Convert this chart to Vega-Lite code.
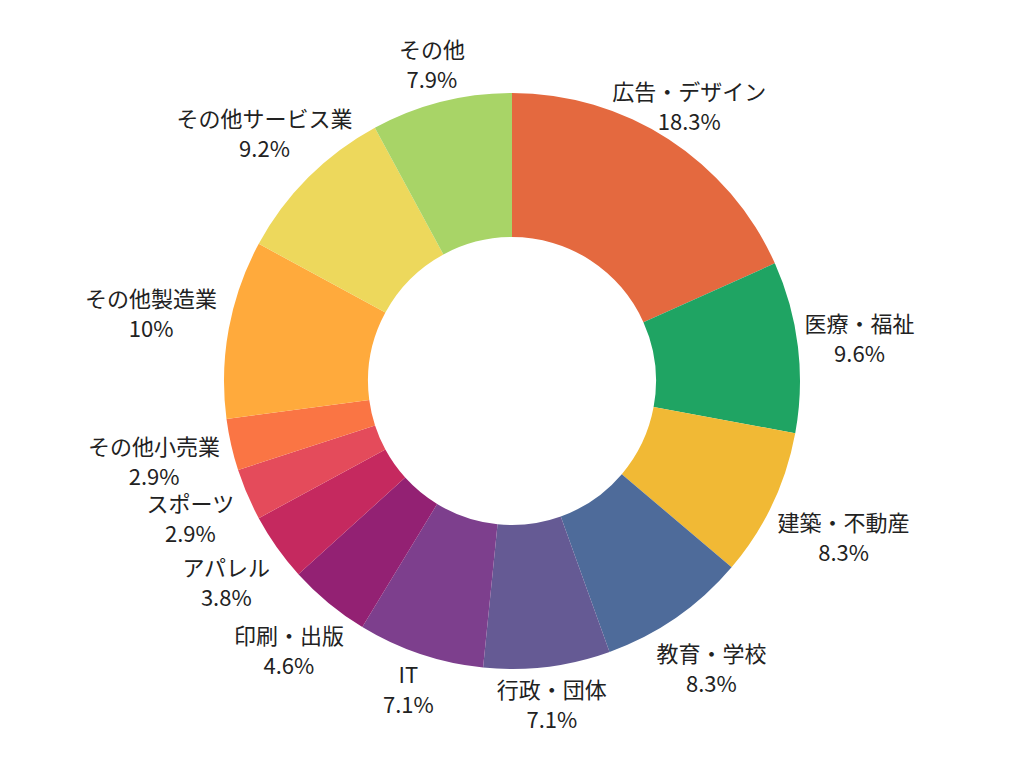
{
  "$schema": "https://vega.github.io/schema/vega-lite/v6.json",
  "width": 1024,
  "height": 768,
  "autosize": {"type": "fit", "contains": "padding"},
  "padding": {"top": 0, "bottom": 6, "left": 0, "right": 0},
  "background": "white",
  "config": {"view": {"stroke": null}},
  "data": {
    "values": [
      {"order": 1, "category": "広告・デザイン", "pct": 18.3},
      {"order": 2, "category": "医療・福祉", "pct": 9.6},
      {"order": 3, "category": "建築・不動産", "pct": 8.3},
      {"order": 4, "category": "教育・学校", "pct": 8.3},
      {"order": 5, "category": "行政・団体", "pct": 7.1},
      {"order": 6, "category": "IT", "pct": 7.1},
      {"order": 7, "category": "印刷・出版", "pct": 4.6},
      {"order": 8, "category": "アパレル", "pct": 3.8},
      {"order": 9, "category": "スポーツ", "pct": 2.9},
      {"order": 10, "category": "その他小売業", "pct": 2.9},
      {"order": 11, "category": "その他製造業", "pct": 10},
      {"order": 12, "category": "その他サービス業", "pct": 9.2},
      {"order": 13, "category": "その他", "pct": 7.9}
    ]
  },
  "encoding": {
    "theta": {"field": "pct", "type": "quantitative", "stack": true},
    "order": {"field": "order", "type": "quantitative"}
  },
  "layer": [
    {
      "mark": {"type": "arc", "outerRadius": 288, "innerRadius": 144},
      "encoding": {
        "color": {
          "field": "category",
          "type": "nominal",
          "legend": null,
          "scale": {
            "domain": ["広告・デザイン", "医療・福祉", "建築・不動産", "教育・学校", "行政・団体", "IT", "印刷・出版", "アパレル", "スポーツ", "その他小売業", "その他製造業", "その他サービス業", "その他"],
            "range": ["#E4693F", "#1FA463", "#F1B935", "#4E6B9A", "#655A94", "#7D3F8D", "#932173", "#C5295F", "#E44B5B", "#FA7544", "#FFAA3C", "#EDD85C", "#A8D467"]
          }
        }
      }
    },
    {
      "transform": [
        {"calculate": "indexof(['広告・デザイン','IT','行政・団体','その他'], datum.category) >= 0 ? datum.category + '\\n' + format(datum.pct, '~g') + '%' : ''", "as": "label"}
      ],
      "mark": {"type": "text", "radius": 326, "dy": -14, "align": "center", "baseline": "middle", "lineBreak": "\n", "lineHeight": 30, "font": "Noto Sans CJK JP", "fontSize": 22, "color": "#222222"},
      "encoding": {"text": {"field": "label"}}
    },
    {
      "transform": [
        {"calculate": "indexof(['医療・福祉','教育・学校','印刷・出版','アパレル','スポーツ','その他サービス業'], datum.category) >= 0 ? datum.category + '\\n' + format(datum.pct, '~g') + '%' : ''", "as": "label"}
      ],
      "mark": {"type": "text", "radius": 350, "dy": -14, "align": "center", "baseline": "middle", "lineBreak": "\n", "lineHeight": 30, "font": "Noto Sans CJK JP", "fontSize": 22, "color": "#222222"},
      "encoding": {"text": {"field": "label"}}
    },
    {
      "transform": [
        {"calculate": "indexof(['建築・不動産','その他小売業','その他製造業'], datum.category) >= 0 ? datum.category + '\\n' + format(datum.pct, '~g') + '%' : ''", "as": "label"}
      ],
      "mark": {"type": "text", "radius": 367, "dy": -14, "align": "center", "baseline": "middle", "lineBreak": "\n", "lineHeight": 30, "font": "Noto Sans CJK JP", "fontSize": 22, "color": "#222222"},
      "encoding": {"text": {"field": "label"}}
    }
  ]
}
